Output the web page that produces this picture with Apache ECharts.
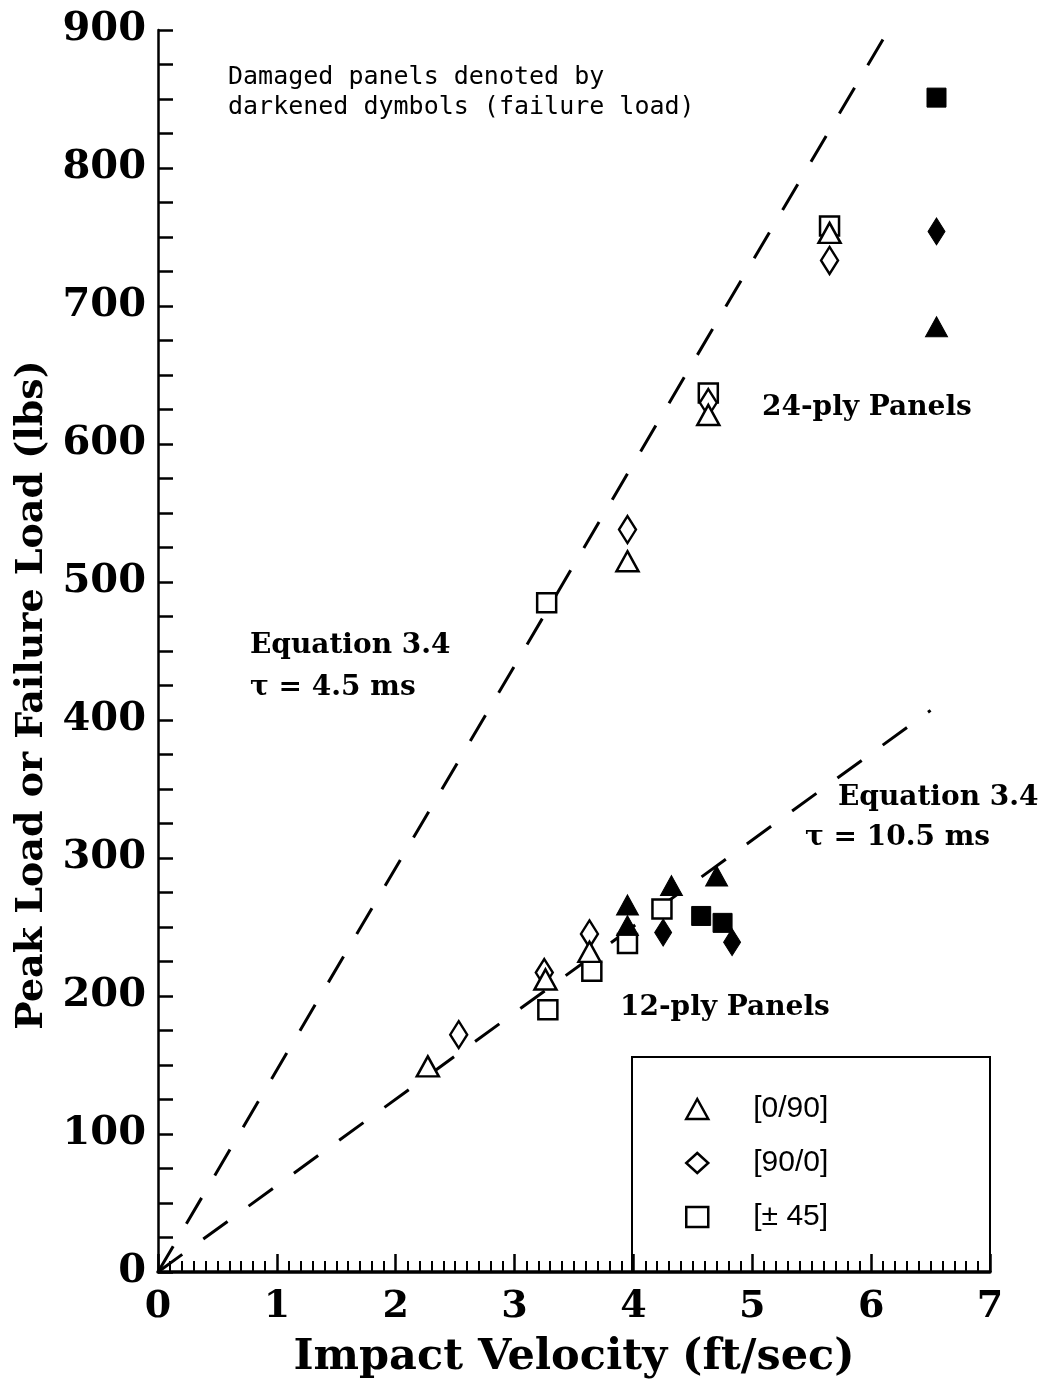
<!DOCTYPE html>
<html>
<head>
<meta charset="utf-8">
<script src="https://cdn.jsdelivr.net/npm/echarts@6/dist/echarts.min.js"></script>
<style>
  html, body { margin: 0; padding: 0; background: #fff; }
  #chart { width: 1039px; height: 1385px; }
</style>
</head>
<body>
<div id="chart"></div>
<script>
// values: [velocity ft/sec, load lbs]
const triOpen12 = [[2.27, 149], [3.26, 212], [3.63, 232]];
const diaOpen12 = [[2.53, 172], [3.25, 217], [3.63, 245]];
const sqOpen12 = [[3.28, 190], [3.65, 218], [3.95, 238], [4.24, 263]];
const triFilled12 = [[3.95, 266], [3.95, 251], [4.32, 280], [4.7, 287]];
const diaFilled12 = [[4.25, 246], [4.83, 239]];
const sqFilled12 = [[4.57, 258], [4.75, 253]];

const triOpen24 = [[3.95, 515], [4.63, 621], [5.65, 753]];
const diaOpen24 = [[3.95, 538], [4.63, 630], [5.65, 733]];
const sqOpen24 = [[3.27, 485], [4.63, 637], [5.65, 758]];
const triFilled24 = [[6.55, 685]];
const diaFilled24 = [[6.55, 754]];
const sqFilled24 = [[6.55, 851]];

// Equation 3.4 curves
const eqTau45 = [[0, 0], [6.18, 905]];
const eqTau105 = [[0, 0], [6.5, 407]];

const legendNames = ["[0/90]", "[90/0]", "[± 45]"];

const serif = '"DejaVu Serif"';
const openStyle = { color: "#fff", borderColor: "#000", borderWidth: 2.5, opacity: 1 };
const filledStyle = { color: "#000", borderColor: "#000", borderWidth: 1, opacity: 1 };
const triSize = [22, 20];
const diaSize = [17, 27];
const sqSize = [19, 19];

function dashed(data) {
  return {
    type: "line",
    data: data,
    symbol: "none",
    silent: true,
    clip: false,
    lineStyle: { color: "#000", width: 3, type: [30, 26] },
    z: 1,
  };
}

function scatter(name, data, symbol, size, style) {
  return {
    name: name,
    type: "scatter",
    data: data,
    symbol: symbol,
    symbolSize: size,
    itemStyle: style,
    z: 3,
  };
}

const annot = (text, left, top) => ({
  type: "text",
  left: left,
  top: top,
  style: { text: text, font: "bold 28px " + serif, fill: "#000" },
});

const chart = echarts.init(document.getElementById("chart"));
chart.setOption({
  backgroundColor: "#fff",
  animation: false,
  grid: { left: 158, right: 49, top: 30, bottom: 113 },
  xAxis: {
    type: "value",
    min: 0,
    max: 7,
    interval: 1,
    name: "Impact Velocity (ft/sec)",
    nameLocation: "middle",
    nameGap: 64,
    nameTextStyle: { fontFamily: serif, fontWeight: "bold", fontSize: 43, color: "#000" },
    axisLine: { show: true, lineStyle: { color: "#000", width: 3.5 } },
    axisTick: { inside: true, length: 18, lineStyle: { color: "#000", width: 2.5 } },
    minorTick: { show: true, splitNumber: 10, length: 11, lineStyle: { color: "#000", width: 2 } },
    splitLine: { show: false },
    axisLabel: { fontFamily: serif, fontWeight: "bold", fontSize: 38, color: "#000", margin: 16 },
  },
  yAxis: {
    type: "value",
    min: 0,
    max: 900,
    interval: 100,
    name: "Peak Load or Failure Load (lbs)",
    nameLocation: "middle",
    nameGap: 100,
    nameTextStyle: {
      fontFamily: serif, fontWeight: "bold", fontSize: 38, color: "#000",
      padding: [0, 88, 0, 0],
    },
    axisLine: { show: true, lineStyle: { color: "#000", width: 2.5 } },
    axisTick: { inside: true, length: 15, lineStyle: { color: "#000", width: 2.5 } },
    minorTick: { show: true, splitNumber: 4, length: 15, lineStyle: { color: "#000", width: 2.5 } },
    splitLine: { show: false },
    axisLabel: { fontFamily: serif, fontWeight: "bold", fontSize: 40, color: "#000", margin: 12 },
  },
  legend: {
    orient: "vertical",
    left: 680,
    top: 1089,
    itemWidth: 22,
    itemHeight: 20,
    itemGap: 24,
    selectedMode: false,
    textStyle: { fontFamily: '"Liberation Sans"', fontSize: 30, color: "#000", padding: [0, 0, 0, 40] },
    data: [
      { name: legendNames[0], icon: "triangle", itemStyle: openStyle },
      { name: legendNames[1], icon: "diamond", itemStyle: openStyle },
      { name: legendNames[2], icon: "rect", itemStyle: openStyle },
    ],
  },
  graphic: [
    {
      type: "rect",
      shape: { x: 632, y: 1057, width: 358, height: 215 },
      style: { fill: "none", stroke: "#000", lineWidth: 2 },
      z: 0,
    },
    {
      type: "text",
      left: 228,
      top: 62,
      style: {
        text: "Damaged panels denoted by\ndarkened dymbols (failure load)",
        font: '25px "DejaVu Sans Mono"',
        lineHeight: 30,
        fill: "#000",
      },
    },
    annot("24-ply Panels", 762, 394),
    annot("12-ply Panels", 620, 994),
    annot("Equation 3.4", 250, 632),
    annot("τ = 4.5 ms", 250, 674),
    annot("Equation 3.4", 838, 784),
    annot("τ = 10.5 ms", 805, 824),
  ],
  series: [
    dashed(eqTau45),
    dashed(eqTau105),
    scatter(legendNames[2], sqOpen12.concat(sqOpen24), "rect", sqSize, openStyle),
    scatter(legendNames[1], diaOpen12.concat(diaOpen24), "diamond", diaSize, openStyle),
    scatter(legendNames[0], triOpen12.concat(triOpen24), "triangle", triSize, openStyle),
    scatter("filled square", sqFilled12.concat(sqFilled24), "rect", sqSize, filledStyle),
    scatter("filled diamond", diaFilled12.concat(diaFilled24), "diamond", diaSize, filledStyle),
    scatter("filled triangle", triFilled12.concat(triFilled24), "triangle", triSize, filledStyle),
  ],
});
</script>
</body>
</html>
